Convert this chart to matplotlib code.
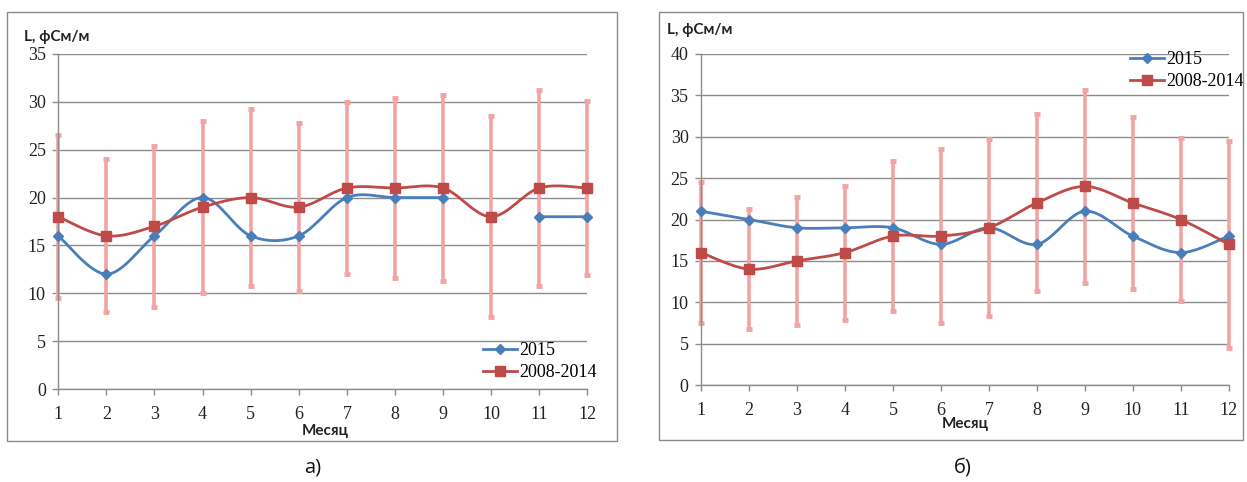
import numpy as np
import matplotlib
matplotlib.use("Agg")
import matplotlib.pyplot as plt
from matplotlib.patches import Rectangle

months = list(range(1, 13))
month_labels = [str(m) for m in months]

# Chart a)
a_2015 = [16, 12, 16, 20, 16, 16, 20, 20, 20, np.nan, 18, 18]
a_hist = [18, 16, 17, 19, 20, 19, 21, 21, 21, 18, 21, 21]
a_err = [8.5, 8.0, 8.4, 9.0, 9.25, 8.75, 9.0, 9.45, 9.75, 10.5, 10.2, 9.1]
a_yticks = [0, 5, 10, 15, 20, 25, 30, 35]

# Chart б)
b_2015 = [21, 20, 19, 19, 19, 17, 19, 17, 21, 18, 16, 18]
b_hist = [16, 14, 15, 16, 18, 18, 19, 22, 24, 22, 20, 17]
b_err = [8.5, 7.25, 7.7, 8.1, 9.1, 10.5, 10.7, 10.7, 11.7, 10.35, 9.9, 12.5]
b_yticks = [0, 5, 10, 15, 20, 25, 30, 35, 40]

ylabel = "L, фСм/м"
xlabel = "Месяц"
series_names = ["2015", "2008-2014"]
captions = ["а)", "б)"]

BLUE = "#4A7EBB"
RED = "#BE4B48"
PINK = "#F2A3A3"
GRID = "#8C8C8C"

W, H = 1247, 482
fig = plt.figure(figsize=(W / 100, H / 100), dpi=100)

NUM_FONT = ["Liberation Serif", "DejaVu Serif"]
LBL_FONT = ["Lato", "DejaVu Sans"]


def smooth(x, y, n=30):
    x = np.asarray(x, float)
    y = np.asarray(y, float)
    outx, outy = [], []
    ok = ~np.isnan(y)
    segs = []
    cur = []
    for i in range(len(x)):
        if ok[i]:
            cur.append(i)
        else:
            if cur:
                segs.append(cur)
            cur = []
    if cur:
        segs.append(cur)
    for s in segs:
        px, py = x[s], y[s]
        if len(s) == 1:
            outx += [px[0]]; outy += [py[0]]
        else:
            for i in range(len(s) - 1):
                p0 = np.array([px[max(i - 1, 0)], py[max(i - 1, 0)]])
                p1 = np.array([px[i], py[i]])
                p2 = np.array([px[i + 1], py[i + 1]])
                p3 = np.array([px[min(i + 2, len(s) - 1)], py[min(i + 2, len(s) - 1)]])
                c1 = p1 + (p2 - p0) / 6
                c2 = p2 - (p3 - p1) / 6
                t = np.linspace(0, 1, n)[:, None]
                pts = ((1 - t) ** 3) * p1 + 3 * ((1 - t) ** 2) * t * c1 + 3 * (1 - t) * t ** 2 * c2 + t ** 3 * p2
                outx += list(pts[:, 0]); outy += list(pts[:, 1])
        outx.append(np.nan); outy.append(np.nan)
    return outx, outy


def px2fig(x0, y0, x1, y1):
    return [x0 / W, 1 - y1 / H, (x1 - x0) / W, (y1 - y0) / H]


def panel(rect, frame, s2015, shist, err, yticks, leg_xy, ylab_xy, xlab_xy, cap_xy, cap):
    fig.add_artist(Rectangle((frame[0] / W, 1 - frame[3] / H), (frame[2] - frame[0]) / W,
                             (frame[3] - frame[1]) / H, transform=fig.transFigure,
                             fill=False, edgecolor="#8A8A8A", lw=1.0))
    ax = fig.add_axes(px2fig(*rect))
    ax.set_xlim(1, 12)
    ax.set_ylim(yticks[0], yticks[-1])
    ax.set_yticks(yticks)
    ax.set_xticks(months)
    ax.set_xticklabels(month_labels)
    for sp in ["top", "right"]:
        ax.spines[sp].set_visible(False)
    for sp in ["left", "bottom"]:
        ax.spines[sp].set_color(GRID)
        ax.spines[sp].set_linewidth(1.0)
    ax.yaxis.grid(True, color=GRID, lw=1.0)
    ax.set_axisbelow(True)
    ax.tick_params(axis="both", direction="out", length=4, width=1, color=GRID,
                   labelsize=13, labelcolor="#222222")
    ax.tick_params(axis="x", pad=8)
    ax.tick_params(axis="y", pad=5)
    for lab in ax.get_xticklabels() + ax.get_yticklabels():
        lab.set_family(NUM_FONT)

    ax.errorbar(months, shist, yerr=err, fmt="none", ecolor=PINK, elinewidth=2.6,
                capsize=2.0, capthick=3.5, zorder=2, clip_on=False)

    sx, sy = smooth(months, s2015)
    hx, hy = smooth(months, shist)
    ax.plot(sx, sy, color=BLUE, lw=2.0, zorder=3, clip_on=False)
    ax.plot(hx, hy, color=RED, lw=2.0, zorder=4, clip_on=False)
    ax.plot(months, s2015, ls="none", marker="D", ms=5.5, color=BLUE, zorder=5, clip_on=False)
    ax.plot(months, shist, ls="none", marker="s", ms=7.5, color=RED, zorder=6, clip_on=False)

    h1, = ax.plot([], [], color=BLUE, lw=2.0, marker="D", ms=5.5)
    h2, = ax.plot([], [], color=RED, lw=2.0, marker="s", ms=7.5)
    ax.legend([h1, h2], series_names, loc="upper left",
              bbox_to_anchor=(leg_xy[0] / W, 1 - leg_xy[1] / H), bbox_transform=fig.transFigure,
              frameon=False, borderpad=0, borderaxespad=0, handlelength=1.9,
              handletextpad=0.1, labelspacing=0.3,
              prop={"family": NUM_FONT, "size": 13})

    fig.text(ylab_xy[0] / W, 1 - ylab_xy[1] / H, ylabel, family=LBL_FONT, fontsize=11,
             fontweight="bold", color="#222222", ha="left", va="center")
    fig.text(xlab_xy[0] / W, 1 - xlab_xy[1] / H, xlabel, family=LBL_FONT, fontsize=11,
             fontweight="bold", color="#222222", ha="center", va="center")
    fig.text(cap_xy[0] / W, 1 - cap_xy[1] / H, cap, family=["Open Sans", "DejaVu Sans"],
             fontsize=14.5, color="#111111", ha="center", va="center")
    return ax


panel((58.3, 54, 587.3, 389), (7, 12, 617, 441), a_2015, a_hist, a_err, a_yticks,
      (483, 342), (24, 37), (325, 431), (313, 467), captions[0])
panel((701, 54, 1228.7, 385), (659, 12, 1243, 440), b_2015, b_hist, b_err, b_yticks,
      (1130, 51), (667, 30), (965, 424), (963, 467), captions[1])

fig.savefig("out.png", dpi=100, facecolor="white")
